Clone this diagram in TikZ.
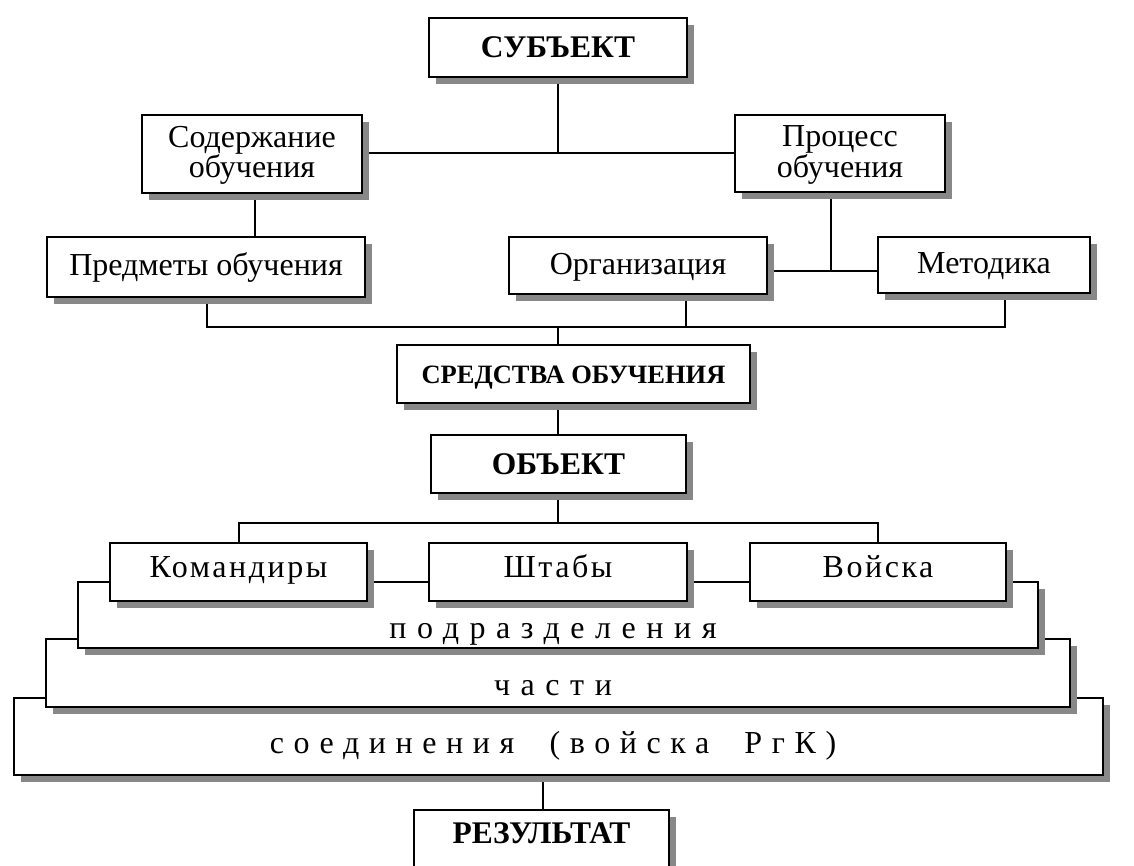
\documentclass[tikz,border=0pt]{standalone}
\usepackage{fontspec}
\setmainfont{Liberation Serif}
\newfontfamily\lsA[LetterSpace=8]{Liberation Serif}
\newfontfamily\lsB[LetterSpace=33]{Liberation Serif}
\newfontfamily\lsC[LetterSpace=30]{Liberation Serif}
\usetikzlibrary{shadows,backgrounds}
\definecolor{shadowgray}{HTML}{888888}
\newcommand\regf{\fontsize{32}{29}\selectfont}
\newcommand\bigbf{\fontsize{31.5}{32}\selectfont\bfseries}
\newcommand\midbf{\fontsize{26.5}{26}\selectfont\bfseries}
\begin{document}
\begin{tikzpicture}[x=1pt,y=-1pt,
  box/.style={draw, line width=2pt, fill=white, rectangle, inner sep=0pt,
    drop shadow={shadow xshift=7pt, shadow yshift=-7pt, fill=shadowgray, opacity=1}},
  one/.style={text height=22pt, text depth=4pt},
  low/.style={text height=22pt, text depth=12pt},
  caps/.style={text height=21pt, text depth=0pt},
  two/.style={align=center, text height=53pt, text depth=5pt},
  conn/.style={line width=2pt},
  lab/.style={inner sep=0pt, anchor=base}]
\useasboundingbox (0,0) rectangle (1134,866);
% boxes, lower layers first
\node[box, minimum width=1089pt, minimum height=77pt] (soed) at (558.5,736.5) {};
\node[box, minimum width=1024pt, minimum height=68pt] (chast) at (558,673) {};
\node[box, minimum width=960pt, minimum height=66pt] (podr) at (558,615) {};
\node[lab, font=\regf\lsC] (tsoed) at (553,753) {соединения \ (войска \ РгК)};
\node[lab, font=\regf\lsB] (tchast) at (553,695) {части};
\node[lab, font=\regf\lsB] (tpodr) at (553,638) {подразделения};

\node[box, minimum width=258pt, minimum height=59pt, font=\bigbf, caps] (subj) at (558,47.5) {СУБЪЕКТ};
\node[box, minimum width=220pt, minimum height=78pt, font=\regf, two] (sod) at (252,154) {Содержание\\обучения};
\node[box, minimum width=210pt, minimum height=77pt, font=\regf, two] (proc) at (840,153.5) {Процесс\\обучения};
\node[box, minimum width=318pt, minimum height=60pt, font=\regf, one] (pred) at (206,267) {Предметы обучения};
\node[box, minimum width=258pt, minimum height=57pt, font=\regf, one] (org) at (638,265.5) {Организация};
\node[box, minimum width=212pt, minimum height=56pt, font=\regf, one] (met) at (984,265) {Методика};
\node[box, minimum width=353pt, minimum height=58pt, font=\midbf, text height=18pt, text depth=0pt] (sred) at (573.5,374) {СРЕДСТВА ОБУЧЕНИЯ};
\node[box, minimum width=255pt, minimum height=58pt, font=\bigbf, caps] (obj) at (558.5,464) {ОБЪЕКТ};
\node[box, minimum width=257pt, minimum height=58pt, font=\regf\lsA, low] (kom) at (238.5,572) {Командиры};
\node[box, minimum width=258pt, minimum height=58pt, font=\regf\lsA, low] (sht) at (558,572) {Штабы};
\node[box, minimum width=256pt, minimum height=58pt, font=\regf\lsA, low] (voy) at (878,572) {Войска};
\node[box, minimum width=255pt, minimum height=72pt, font=\bigbf, anchor=north, text height=21pt, text depth=26pt] (res) at (541.5,809) {РЕЗУЛЬТАТ};

\coordinate (J1) at (558,153);
\coordinate (J2) at (831,271);
\coordinate (B1) at (207,327);
\coordinate (B2) at (1005,327);
\coordinate (B3) at (686,327);
\coordinate (B4) at (558,327);
\coordinate (C0) at (558,523);
\coordinate (C1) at (239,523);
\coordinate (C2) at (878,523);
\coordinate (R1) at (543,775);
\coordinate (S1) at (255,193);

\begin{scope}[on background layer]
\draw[conn] (subj.south -| J1) -- (J1);
\draw[conn] (sod.east |- J1) -- (proc.west |- J1);
\draw[conn] (S1) -- (pred.north -| S1);
\draw[conn] (proc.south -| J2) -- (J2);
\draw[conn] (org.east |- J2) -- (met.west |- J2);
\draw[conn] (pred.south -| B1) -- (B1) -- (B2) -- (met.south -| B2);
\draw[conn] (B3) -- (org.south -| B3);
\draw[conn] (B4) -- (sred.north -| B4);
\draw[conn] (sred.south -| B4) -- (obj.north -| B4);
\draw[conn] (obj.south -| C0) -- (C0);
\draw[conn] (kom.north -| C1) -- (C1) -- (C2) -- (voy.north -| C2);
\draw[conn] (R1) -- (res.north -| R1);
\end{scope}
\end{tikzpicture}
\end{document}
